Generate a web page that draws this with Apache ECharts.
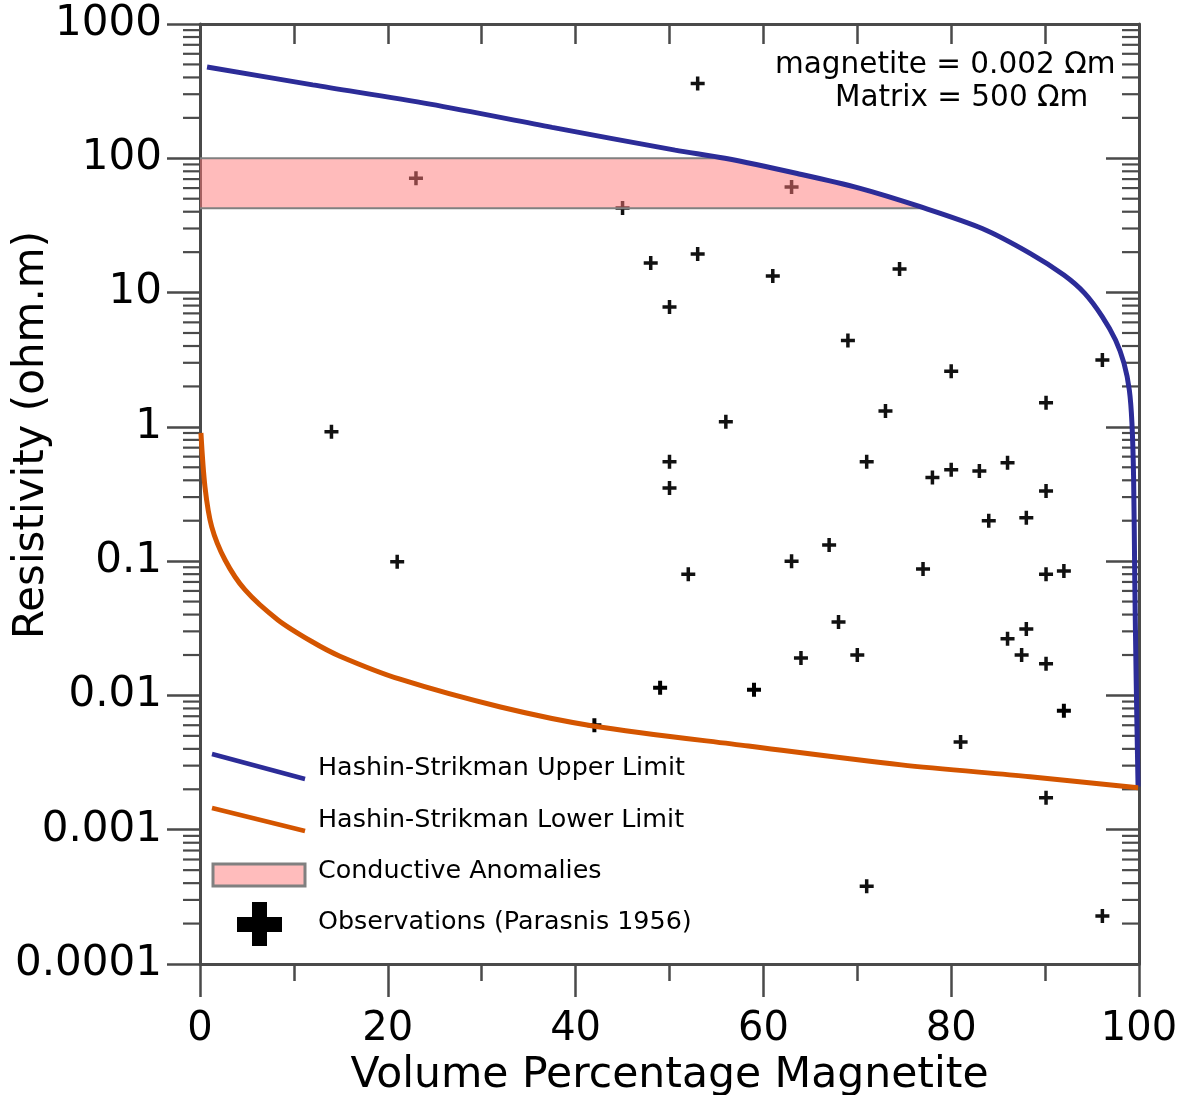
<!DOCTYPE html>
<html>
<head>
<meta charset="utf-8">
<title>Resistivity vs magnetite content</title>
<script src="https://cdn.jsdelivr.net/npm/echarts@6/dist/echarts.min.js"></script>
<style>
  html, body { margin: 0; padding: 0; background: #ffffff; }
  #chart { width: 1189px; height: 1095px; }
</style>
</head>
<body>
<div id="chart"></div>
<script>
// ---- data -------------------------------------------------------------
// Hashin-Strikman bounds, [volume % magnetite, resistivity ohm.m]
const upperLimit = [
  [0.75, 479], [12, 352], [24.5, 253], [37.5, 170], [50.6, 115], [55.9, 100],
  [63.6, 77], [70.2, 60], [76.7, 43.6], [83.3, 30], [88.4, 19.6], [92.0, 13.5],
  [94.2, 9.9], [96.1, 6.6], [97.5, 4.43], [98.4, 2.98], [98.97, 1.88],
  [99.25, 1.06], [99.43, 0.4], [99.55, 0.072], [99.7, 0.013], [99.9, 0.0021]
];
const lowerLimit = [
  [0.1, 0.9], [0.53, 0.357], [1.25, 0.18], [2.67, 0.102], [4.8, 0.061],
  [8.3, 0.0365], [11.9, 0.0252], [14.9, 0.0196], [21.3, 0.0132], [32, 0.0082],
  [42, 0.0059], [58.4, 0.0042], [74.7, 0.00304], [88.4, 0.00248], [99.9, 0.00205]
];
// Parasnis (1956) observations
const observations = [
  [53, 360], [23, 71], [45, 42.7], [63, 61], [48, 16.6], [53, 19.4], [61, 13.3],
  [74.5, 15], [50, 7.8], [69, 4.4], [80, 2.6], [96.1, 3.15], [90.1, 1.51],
  [73, 1.31], [56, 1.09], [14, 0.92], [50, 0.55], [71, 0.55], [50, 0.35],
  [78, 0.42], [80, 0.48], [83, 0.47], [86, 0.54], [90.1, 0.333], [84, 0.2],
  [88, 0.21], [21, 0.099], [52, 0.08], [63, 0.1], [67, 0.132], [77, 0.0875],
  [90.1, 0.08], [92, 0.0845], [68, 0.0352], [64, 0.019], [70, 0.02],
  [86, 0.0264], [88, 0.0313], [87.5, 0.02], [90.1, 0.0172], [81, 0.0045],
  [90.1, 0.00173], [71, 0.00038], [96.1, 0.000228]
];
const observationsHeavy = [[49, 0.0114], [59, 0.011], [42, 0.006], [92, 0.0077]];
// conductive anomaly band, ohm.m
const anomalyBand = [42.5, 100];
// axis tick labels
const xTickLabels = ['0', '20', '40', '60', '80', '100'];
const yTickLabels = ['0.0001', '0.001', '0.01', '0.1', '1', '10', '100', '1000'];

// ---- helpers ----------------------------------------------------------
const FONT = 'DejaVu Sans';
const AXIS_COLOR = '#4a4a4a';
const BLUE = '#2c2c98';
const ORANGE = '#d45500';
const PINK = '#ffbcbc';
const EDGE = '#808080';

// minor log ticks (2..9 within each decade)
const minorTickValues = [];
for (let d = -4; d <= 2; d++) {
  for (let k = 2; k <= 9; k++) minorTickValues.push([0, k * Math.pow(10, d)]);
}

// x position where the upper bound crosses a resistivity level (log-linear)
function crossingX(level) {
  for (let i = 0; i < upperLimit.length - 1; i++) {
    const a = upperLimit[i], b = upperLimit[i + 1];
    if ((a[1] - level) * (b[1] - level) <= 0) {
      const la = Math.log10(a[1]), lb = Math.log10(b[1]), ll = Math.log10(level);
      const t = la === lb ? 0 : (la - ll) / (la - lb);
      return a[0] + t * (b[0] - a[0]);
    }
  }
  return 0;
}

const plusPath = 'path://M0,5.25H5.25V0H8.75V5.25H14V8.75H8.75V14H5.25V8.75H0Z';
const plusHeavyPath = 'path://M0,5H5V0H9V5H14V9H9V14H5V9H0Z';

const chart = echarts.init(document.getElementById('chart'), null, { renderer: 'canvas' });

const option = {
  animation: false,
  backgroundColor: '#ffffff',
  grid: { left: 200, right: 50, top: 24, bottom: 131, containLabel: false, outerBoundsMode: 'none' },
  xAxis: [
    {
      type: 'value', position: 'bottom', min: 0, max: 100, interval: 20,
      axisLine: { show: true, onZero: false, lineStyle: { color: AXIS_COLOR, width: 3 } },
      axisTick: { show: true, inside: false, length: 33, lineStyle: { color: AXIS_COLOR, width: 2.5 } },
      minorTick: { show: true, splitNumber: 2, length: 17, lineStyle: { color: AXIS_COLOR, width: 2.5 } },
      splitLine: { show: false },
      axisLabel: {
        margin: 46, color: '#000', fontFamily: FONT, fontSize: 40,
        formatter: (v) => xTickLabels[Math.round(v / 20)] || ''
      },
      name: 'Volume Percentage Magnetite', nameLocation: 'middle', nameGap: 85,
      nameTextStyle: { color: '#000', fontFamily: FONT, fontSize: 42.5 }
    },
    {
      type: 'value', position: 'top', min: 0, max: 100, interval: 10,
      axisLine: { show: true, onZero: false, lineStyle: { color: AXIS_COLOR, width: 3 } },
      axisTick: { show: true, inside: true, length: 20, lineStyle: { color: AXIS_COLOR, width: 2.5 } },
      splitLine: { show: false },
      axisLabel: { show: false }
    }
  ],
  yAxis: [
    {
      type: 'log', logBase: 10, position: 'left', min: 0.0001, max: 1000,
      axisLine: { show: true, onZero: false, lineStyle: { color: AXIS_COLOR, width: 3 } },
      axisTick: { show: true, inside: false, length: 33, lineStyle: { color: AXIS_COLOR, width: 2.5 } },
      splitLine: { show: false },
      axisLabel: {
        margin: 38, color: '#000', fontFamily: FONT, fontSize: 42,
        padding: [12, 0, 0, 0],
        formatter: (v) => yTickLabels[Math.round(Math.log10(v)) + 4] || ''
      }
    },
    {
      type: 'log', logBase: 10, position: 'right', min: 0.0001, max: 1000,
      axisLine: { show: true, onZero: false, lineStyle: { color: AXIS_COLOR, width: 3 } },
      axisTick: { show: true, inside: true, length: 33, lineStyle: { color: AXIS_COLOR, width: 2.5 } },
      splitLine: { show: false },
      axisLabel: { show: false }
    }
  ],
  series: [
    {
      // minor ticks of both logarithmic axes
      type: 'custom', name: 'minorTicks', silent: true, clip: false, z: 1,
      xAxisIndex: 0, yAxisIndex: 0,
      data: minorTickValues,
      renderItem: function (params, api) {
        const y = api.coord([0, api.value(1)])[1];
        const cs = params.coordSys;
        const style = { stroke: AXIS_COLOR, lineWidth: 2.2 };
        return {
          type: 'group',
          children: [
            { type: 'line', shape: { x1: cs.x - 17, y1: y, x2: cs.x, y2: y }, style: style },
            { type: 'line', shape: { x1: cs.x + cs.width - 17, y1: y, x2: cs.x + cs.width, y2: y }, style: style }
          ]
        };
      }
    },
    {
      type: 'scatter', name: 'Observations (Parasnis 1956)', z: 2,
      xAxisIndex: 0, yAxisIndex: 0,
      symbol: plusPath, symbolSize: 14,
      itemStyle: { color: '#111111', opacity: 1 },
      data: observations
    },
    {
      type: 'scatter', name: 'Observations (Parasnis 1956) heavy', z: 2,
      xAxisIndex: 0, yAxisIndex: 0,
      symbol: plusHeavyPath, symbolSize: 14,
      itemStyle: { color: '#000000', opacity: 1 },
      data: observationsHeavy
    },
    {
      // conductive anomaly band, bounded on the right by the upper limit
      type: 'custom', name: 'Conductive Anomalies', silent: true, z: 3,
      xAxisIndex: 0, yAxisIndex: 0,
      data: [[0, anomalyBand[0]]],
      renderItem: function (params, api) {
        const lo = anomalyBand[0], hi = anomalyBand[1];
        const xTop = crossingX(hi), xBottom = crossingX(lo);
        const pts = [api.coord([0, hi]), api.coord([xTop, hi])];
        upperLimit.forEach(function (p) {
          if (p[1] < hi && p[1] > lo) pts.push(api.coord(p));
        });
        pts.push(api.coord([xBottom, lo]));
        pts.push(api.coord([0, lo]));
        const edge = { stroke: EDGE, lineWidth: 2, fill: null };
        return {
          type: 'group',
          children: [
            { type: 'polygon', shape: { points: pts }, style: { fill: 'rgba(255,120,120,0.5)', stroke: null } },
            { type: 'polyline', shape: { points: [api.coord([0, hi]), api.coord([xTop, hi])] }, style: edge },
            { type: 'polyline', shape: { points: [api.coord([0, lo]), api.coord([xBottom, lo])] }, style: edge }
          ]
        };
      }
    },
    {
      type: 'line', name: 'Hashin-Strikman Upper Limit', z: 4,
      xAxisIndex: 0, yAxisIndex: 0,
      showSymbol: false, smooth: 0.3,
      lineStyle: { color: BLUE, width: 5 },
      data: upperLimit
    },
    {
      type: 'line', name: 'Hashin-Strikman Lower Limit', z: 4,
      xAxisIndex: 0, yAxisIndex: 0,
      showSymbol: false, smooth: 0.3,
      lineStyle: { color: ORANGE, width: 5 },
      data: lowerLimit
    }
  ],
  graphic: [
    // y axis title
    {
      type: 'text', x: 32, y: 435, rotation: Math.PI / 2,
      style: { text: 'Resistivity (ohm.m)', fill: '#000', font: '42px "DejaVu Sans"', align: 'center', verticalAlign: 'middle' }
    },
    // model parameters
    {
      type: 'text', x: 775, y: 65,
      style: { text: 'magnetite = 0.002 Ωm', fill: '#000', font: '29.5px "DejaVu Sans"', align: 'left', verticalAlign: 'middle' }
    },
    {
      type: 'text', x: 835, y: 98,
      style: { text: 'Matrix = 500 Ωm', fill: '#000', font: '29.5px "DejaVu Sans"', align: 'left', verticalAlign: 'middle' }
    },
    // legend
    { type: 'line', shape: { x1: 212, y1: 754, x2: 305, y2: 779 }, style: { stroke: BLUE, lineWidth: 4.5 } },
    { type: 'line', shape: { x1: 212, y1: 808, x2: 305, y2: 831 }, style: { stroke: ORANGE, lineWidth: 4.5 } },
    { type: 'rect', shape: { x: 213, y: 864, width: 92, height: 22 }, style: { fill: PINK, stroke: EDGE, lineWidth: 3 } },
    { type: 'rect', shape: { x: 237, y: 917, width: 45, height: 15 }, style: { fill: '#000' } },
    { type: 'rect', shape: { x: 252, y: 902, width: 15, height: 44 }, style: { fill: '#000' } },
    {
      type: 'text', x: 318, y: 768,
      style: { text: 'Hashin-Strikman Upper Limit', fill: '#000', font: '25.4px "DejaVu Sans"', verticalAlign: 'middle' }
    },
    {
      type: 'text', x: 318, y: 820,
      style: { text: 'Hashin-Strikman Lower Limit', fill: '#000', font: '25.4px "DejaVu Sans"', verticalAlign: 'middle' }
    },
    {
      type: 'text', x: 318, y: 871,
      style: { text: 'Conductive Anomalies', fill: '#000', font: '25.4px "DejaVu Sans"', verticalAlign: 'middle' }
    },
    {
      type: 'text', x: 318, y: 922,
      style: { text: 'Observations (Parasnis 1956)', fill: '#000', font: '25.4px "DejaVu Sans"', verticalAlign: 'middle' }
    }
  ]
};

chart.setOption(option);
</script>
</body>
</html>
